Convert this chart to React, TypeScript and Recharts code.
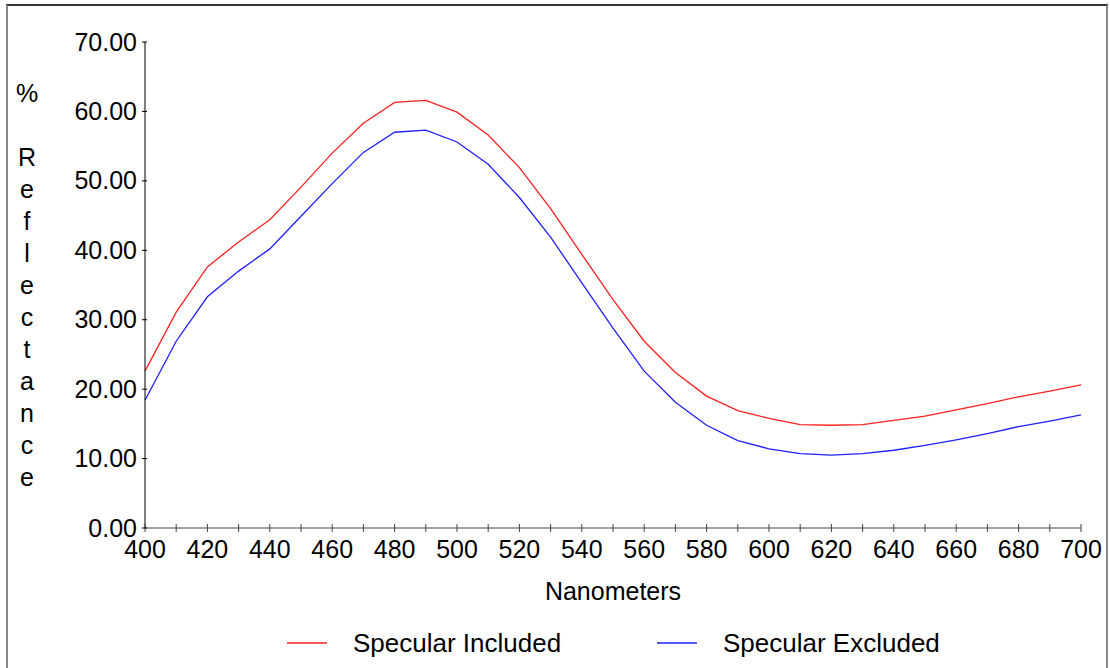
import React from 'react';
import { LineChart, Line, XAxis, YAxis, Legend } from 'recharts';

const wavelengths = [400, 410, 420, 430, 440, 450, 460, 470, 480, 490, 500, 510, 520, 530, 540, 550, 560, 570, 580, 590, 600, 610, 620, 630, 640, 650, 660, 670, 680, 690, 700];
const specIncluded = [22.6, 31.1, 37.6, 41.2, 44.4, 49.1, 54.0, 58.3, 61.3, 61.6, 59.9, 56.6, 51.9, 46.0, 39.4, 32.9, 26.9, 22.4, 19.0, 16.9, 15.8, 14.9, 14.8, 14.9, 15.5, 16.1, 17.0, 17.9, 18.9, 19.7, 20.6];
const specExcluded = [18.4, 26.9, 33.3, 37.0, 40.2, 44.9, 49.6, 54.1, 57.0, 57.3, 55.6, 52.4, 47.6, 41.9, 35.3, 28.8, 22.6, 18.1, 14.8, 12.6, 11.4, 10.7, 10.5, 10.7, 11.2, 11.9, 12.7, 13.6, 14.6, 15.4, 16.3];
const xTicks = wavelengths;
const yTicks = [0, 10, 20, 30, 40, 50, 60, 70];
const yLabelLetters = ['R', 'e', 'f', 'l', 'e', 'c', 't', 'a', 'n', 'c', 'e'];

const data = wavelengths.map((nm, i) => ({ nm, inc: specIncluded[i], exc: specExcluded[i] }));

const FONT = '"Liberation Sans", Arial, sans-serif';

const XTick = (props: any) => {
  const { x, y, payload } = props;
  const axisY = y - 6;
  const v = payload.value;
  return (
    <g>
      <line x1={x} x2={x} y1={axisY - 4} y2={axisY + 4} stroke="#444" />
      {v % 20 === 0 && (
        <text x={x} y={axisY + 30} textAnchor="middle" fontSize={25} fontFamily={FONT} fill="#000">
          {v}
        </text>
      )}
    </g>
  );
};

const YTick = (props: any) => {
  const { x, y, payload } = props;
  const axisX = x + 8;
  return (
    <g>
      <line x1={axisX - 3} x2={axisX + 2} y1={y} y2={y} stroke="#000" />
      <text x={x} y={y + 8.5} textAnchor="end" fontSize={25} fontFamily={FONT} fill="#000">
        {payload.value.toFixed(2)}
      </text>
    </g>
  );
};

const YLabel = () => (
  <text x={27} y={102} textAnchor="middle" fontSize={25} fontFamily={FONT} fill="#000">
    <tspan x={27}>%</tspan>
    {yLabelLetters.map((c, i) => (
      <tspan key={i} x={27} dy={i === 0 ? 64 : 32}>{c}</tspan>
    ))}
  </text>
);

const XLabel = (props: any) => {
  const { viewBox } = props;
  return (
    <text x={viewBox.x + viewBox.width / 2} y={viewBox.y + 72} textAnchor="middle" fontSize={25} fontFamily={FONT} fill="#000">
      Nanometers
    </text>
  );
};

const LegendBox = () => (
  <svg width={1110} height={30} style={{ display: 'block' }}>
    <line x1={287} x2={327} y1={15} y2={15} stroke="#ff2020" strokeWidth={1.3} />
    <text x={353} y={24} fontSize={26} fontFamily={FONT} fill="#000">Specular Included</text>
    <line x1={657} x2={697} y1={15} y2={15} stroke="#2020ff" strokeWidth={1.3} />
    <text x={723} y={24} fontSize={26} fontFamily={FONT} fill="#000">Specular Excluded</text>
  </svg>
);

export default function App() {
  return (
    <div style={{ position: 'absolute', left: 0, top: 0, width: 1110, height: 668, background: '#fff', overflow: 'hidden' }}>
      <div style={{ position: 'absolute', left: 6, top: 4, width: 1098, height: 700, borderTop: '2px solid #333', borderLeft: '2px solid #888', borderRight: '2px solid #888' }} />
      <div style={{ position: 'absolute', left: 0, top: 0 }}>
        <LineChart width={1110} height={668} data={data} margin={{ top: 42, right: 29, bottom: 50, left: 0 }}>
          <XAxis
            dataKey="nm"
            type="number"
            domain={[400, 700]}
            ticks={xTicks}
            interval={0}
            height={60}
            tickSize={4}
            tickMargin={2}
            tickLine={false}
            axisLine={{ stroke: '#444' }}
            tick={<XTick />}
            label={<XLabel />}
          />
          <YAxis
            type="number"
            domain={[0, 70]}
            ticks={yTicks}
            interval={0}
            width={145}
            tickSize={3}
            tickMargin={5}
            tickLine={false}
            axisLine={{ stroke: '#000' }}
            tick={<YTick />}
            label={<YLabel />}
          />
          <Legend
            verticalAlign="bottom"
            content={<LegendBox />}
            wrapperStyle={{ left: 0, width: 1110, top: 628, bottom: 'auto', height: 30 }}
          />
          <Line type="linear" dataKey="inc" stroke="#ff2020" strokeWidth={1.3} dot={false} isAnimationActive={false} />
          <Line type="linear" dataKey="exc" stroke="#2020ff" strokeWidth={1.3} dot={false} isAnimationActive={false} />
        </LineChart>
      </div>
    </div>
  );
}
